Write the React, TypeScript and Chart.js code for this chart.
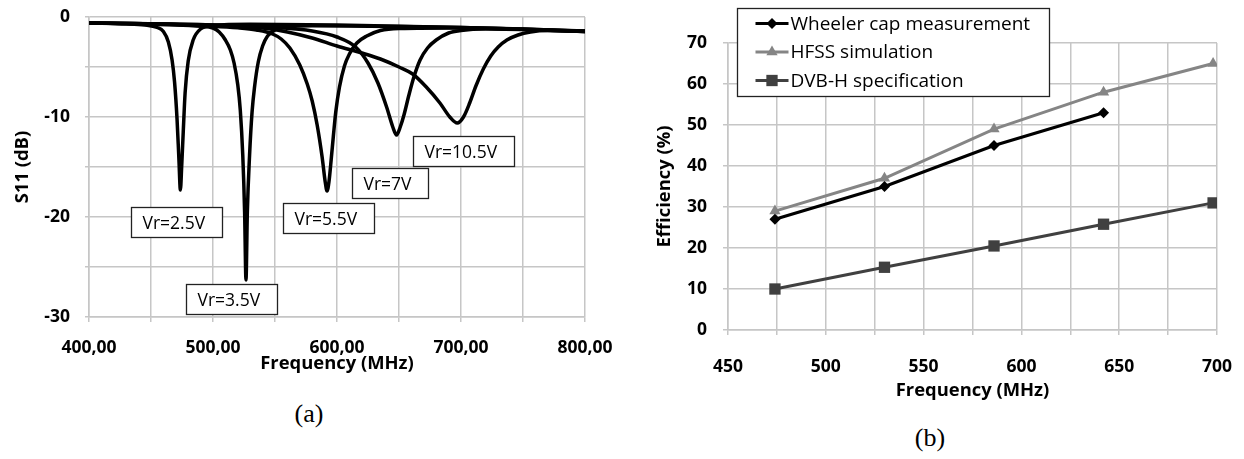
import React, { useEffect, useRef } from 'react';
import { Chart, registerables } from 'chart.js';

Chart.register(...registerables);

const FONT = "'Open Sans', 'DejaVu Sans', sans-serif";

// ---------- Panel (a): S11 vs frequency ----------
const f25 = [400, 430, 445, 455, 460, 464, 467, 469, 471, 472.5, 473.7, 474.8, 476, 477.5, 480, 484, 490, 500, 530, 600, 700, 800];
const s25 = [-0.6, -0.68, -0.8, -1.05, -1.45, -2.5, -4.3, -6.5, -10.2, -14.2, -17.3, -14.8, -11.5, -7.6, -4.4, -2.3, -1.2, -0.85, -0.72, -0.8, -1.05, -1.4];

const f35 = [400, 460, 490, 500, 505, 510, 514, 517, 520, 522, 524, 525.5, 526.6, 527.7, 529.5, 531.5, 533.5, 536.5, 540, 544, 550, 560, 580, 650, 700, 750, 800];
const s35 = [-0.6, -0.7, -0.92, -1.1, -1.5, -2.3, -3.3, -4.6, -6.8, -9.3, -13.8, -19.5, -26.3, -19.5, -13.8, -9.5, -7.0, -4.5, -2.9, -1.9, -1.3, -1.0, -0.88, -0.95, -1.05, -1.2, -1.42];

const f55 = [400, 450, 500, 520, 535, 548, 555, 562, 570, 576, 580, 584, 588, 590.5, 592, 593.5, 595.5, 597, 599, 602, 606, 610, 616, 624, 635, 650, 700, 800];
const s55 = [-0.6, -0.72, -0.92, -1.08, -1.3, -1.7, -2.2, -3.1, -4.8, -6.7, -8.4, -10.8, -14.0, -16.5, -17.4, -16.5, -14.0, -12.0, -9.5, -7.0, -4.9, -3.7, -2.6, -1.9, -1.35, -1.15, -1.1, -1.45];

const f7 = [400, 500, 550, 580, 600, 615, 625, 633, 640, 645, 648, 651, 654, 658, 662, 667, 673, 680, 690, 700, 720, 800];
const s7 = [-0.6, -0.8, -1.05, -1.4, -2.0, -3.0, -4.6, -6.6, -9.0, -11.0, -11.8, -11.0, -9.8, -7.8, -6.0, -4.3, -3.1, -2.3, -1.6, -1.35, -1.2, -1.45];

const f105 = [400, 500, 540, 560, 580, 600, 620, 635, 650, 661, 672, 683, 691, 697, 702, 707, 712, 718, 724, 730, 737, 746, 756, 770, 800];
const s105 = [-0.6, -0.8, -1.1, -1.5, -2.1, -2.9, -3.6, -4.2, -5.0, -5.7, -7.0, -8.6, -10.0, -10.6, -10.0, -8.6, -6.9, -5.2, -3.9, -3.0, -2.3, -1.8, -1.5, -1.35, -1.45];

const vrLabels = ['Vr=2.5V', 'Vr=3.5V', 'Vr=5.5V', 'Vr=7V', 'Vr=10.5V'];
// top-left anchor of each label box, in data units (MHz, dB)
const vrLabelF = [434, 478, 556.5, 612, 661.3];
const vrLabelDb = [-19.0, -26.7, -18.6, -15.1, -11.9];

// ---------- Panel (b): efficiency ----------
const freqB = [474, 530, 586, 642, 698];
const wheeler = [27, 35, 45, 53];
const hfss = [29, 37, 49, 58, 65];
const dvbh = [10, 15.3, 20.5, 25.8, 31];
const legendB = ['Wheeler cap measurement', 'HFSS simulation', 'DVB-H specification'];

const GRID = '#c6c6c6';

const toXY = (xs: number[], ys: number[]) => ys.map((y, i) => ({ x: xs[i], y }));

const vrLabelPlugin = {
  id: 'vrLabels',
  afterDatasetsDraw(chart: any) {
    const { ctx, scales } = chart;
    const x = scales.x;
    const y = scales.y;
    ctx.save();
    ctx.font = `17.5px ${FONT}`;
    vrLabels.forEach((t, i) => {
      const left = Math.round(x.getPixelForValue(vrLabelF[i])) + 0.5;
      const top = Math.round(y.getPixelForValue(vrLabelDb[i])) + 0.5;
      const w = Math.round(ctx.measureText(t).width + 28);
      const h = 30;
      ctx.fillStyle = '#ffffff';
      ctx.fillRect(left, top, w, h);
      ctx.strokeStyle = '#222';
      ctx.lineWidth = 1.3;
      ctx.strokeRect(left, top, w, h);
      ctx.fillStyle = '#000';
      ctx.textBaseline = 'middle';
      ctx.textAlign = 'left';
      ctx.fillText(t, left + 11, top + h / 2 + 2);
    });
    ctx.restore();
  },
};

function drawMarker(ctx: CanvasRenderingContext2D, style: string, cx: number, cy: number, r: number) {
  ctx.beginPath();
  if (style === 'rectRot') {
    ctx.moveTo(cx - r, cy);
    ctx.lineTo(cx, cy - r);
    ctx.lineTo(cx + r, cy);
    ctx.lineTo(cx, cy + r);
  } else if (style === 'triangle') {
    ctx.moveTo(cx, cy - r);
    ctx.lineTo(cx + r * Math.sin(Math.PI / 3), cy + r / 2);
    ctx.lineTo(cx - r * Math.sin(Math.PI / 3), cy + r / 2);
  } else {
    const s = r * Math.SQRT1_2;
    ctx.rect(cx - s, cy - s, 2 * s, 2 * s);
  }
  ctx.closePath();
  ctx.fill();
}

const legendPluginB = {
  id: 'legendB',
  afterDraw(chart: any) {
    const { ctx, chartArea } = chart;
    ctx.save();
    ctx.font = `19px ${FONT}`;
    const left = Math.round(chartArea.left + 9) + 0.5;
    const top = 8.5;
    const textX = left + 53;
    const maxW = Math.max(...legendB.map((t) => ctx.measureText(t).width));
    const w = Math.round(53 + maxW + 19);
    const h = 88;
    ctx.fillStyle = '#fff';
    ctx.fillRect(left, top, w, h);
    ctx.strokeStyle = '#222';
    ctx.lineWidth = 1.3;
    ctx.strokeRect(left, top, w, h);
    chart.data.datasets.forEach((ds: any, i: number) => {
      const cy = top + 15 + i * 28.5;
      ctx.strokeStyle = ds.borderColor;
      ctx.lineWidth = 3;
      ctx.beginPath();
      ctx.moveTo(left + 18, cy);
      ctx.lineTo(left + 51, cy);
      ctx.stroke();
      ctx.fillStyle = ds.pointBackgroundColor;
      drawMarker(ctx, ds.pointStyle, left + 34.5, cy, ds.pointRadius);
      ctx.fillStyle = '#000';
      ctx.textAlign = 'left';
      ctx.textBaseline = 'middle';
      ctx.fillText(legendB[i], textX, cy + 1);
    });
    ctx.restore();
  },
};

const fitX = (h: number) => (s: any) => {
  s.height = h;
  s.paddingLeft = 0;
  s.paddingRight = 0;
};
const fitY = (w: number) => (s: any) => {
  s.width = w;
  s.paddingTop = 0;
  s.paddingBottom = 0;
};

export default function App() {
  const refA = useRef<HTMLCanvasElement>(null);
  const refB = useRef<HTMLCanvasElement>(null);

  useEffect(() => {
    const tickFont = { family: FONT, size: 17.5, weight: 'bold' as const };
    const titleFont = { family: FONT, size: 18.4, weight: 'bold' as const };

    const lineA = (xs: number[], ys: number[], label: string) => ({
      label,
      data: toXY(xs, ys),
      borderColor: '#000',
      borderWidth: 3.5,
      pointRadius: 0,
      fill: false,
      cubicInterpolationMode: 'monotone' as const,
    });

    const chartA = new Chart(refA.current!, {
      type: 'line',
      data: {
        datasets: [
          lineA(f105, s105, 'Vr=10.5V'),
          lineA(f7, s7, 'Vr=7V'),
          lineA(f55, s55, 'Vr=5.5V'),
          lineA(f35, s35, 'Vr=3.5V'),
          lineA(f25, s25, 'Vr=2.5V'),
        ],
      },
      options: {
        responsive: false,
        animation: false,
        layout: { padding: { top: 17, right: 35, left: 0, bottom: 0 } },
        plugins: { legend: { display: false }, tooltip: { enabled: false } },
        scales: {
          x: {
            type: 'linear',
            min: 400,
            max: 800,
            afterFit: fitX(73),
            ticks: {
              stepSize: 50,
              autoSkip: false,
              maxRotation: 0,
              padding: 16,
              color: '#000',
              font: tickFont,
              callback: (v: any) => (Number(v) % 100 === 0 ? Number(v).toFixed(2).replace('.', ',') : ''),
            },
            grid: { color: GRID, lineWidth: 1.5, tickLength: 5, tickColor: GRID },
            border: { color: GRID, width: 1.5 },
            title: { display: true, text: 'Frequency (MHz)', color: '#000', font: titleFont, padding: { top: 0, bottom: 15 } },
          },
          y: {
            type: 'linear',
            min: -30,
            max: 0,
            afterFit: fitY(89),
            ticks: {
              stepSize: 5,
              padding: 15,
              color: '#000',
              font: tickFont,
              callback: (v: any) => (Number(v) % 10 === 0 ? String(v) : ''),
            },
            grid: { color: GRID, lineWidth: 1.5, tickLength: 4, tickColor: GRID },
            border: { color: GRID, width: 1.5 },
            title: { display: true, text: 'S11 (dB)', color: '#000', font: titleFont, padding: { top: 12, bottom: 0 } },
          },
        },
      },
      plugins: [vrLabelPlugin],
    } as any);

    const chartB = new Chart(refB.current!, {
      type: 'line',
      data: {
        datasets: [
          {
            label: legendB[0],
            data: toXY(freqB, wheeler),
            borderColor: '#000000',
            backgroundColor: '#000000',
            pointBackgroundColor: '#000000',
            pointBorderColor: '#000000',
            borderWidth: 3,
            pointStyle: 'rectRot',
            pointRadius: 5.5,
            pointBorderWidth: 0,
          },
          {
            label: legendB[1],
            data: toXY(freqB, hfss),
            borderColor: '#858585',
            backgroundColor: '#858585',
            pointBackgroundColor: '#858585',
            pointBorderColor: '#858585',
            borderWidth: 3,
            pointStyle: 'triangle',
            pointRadius: 6.5,
            pointBorderWidth: 0,
          },
          {
            label: legendB[2],
            data: toXY(freqB, dvbh),
            borderColor: '#404040',
            backgroundColor: '#404040',
            pointBackgroundColor: '#404040',
            pointBorderColor: '#404040',
            borderWidth: 3,
            pointStyle: 'rect',
            pointRadius: 8,
            pointBorderWidth: 0,
          },
        ],
      },
      options: {
        responsive: false,
        animation: false,
        layout: { padding: { top: 43, right: 27, left: 0, bottom: 0 } },
        plugins: { legend: { display: false }, tooltip: { enabled: false } },
        scales: {
          x: {
            type: 'linear',
            min: 450,
            max: 700,
            afterFit: fitX(80),
            ticks: {
              stepSize: 25,
              autoSkip: false,
              maxRotation: 0,
              padding: 22,
              color: '#000',
              font: tickFont,
              callback: (v: any) => (Number(v) % 50 === 0 ? String(v) : ''),
            },
            grid: { color: GRID, lineWidth: 1.5, tickLength: 5, tickColor: GRID },
            border: { color: GRID, width: 1.5 },
            title: { display: true, text: 'Frequency (MHz)', color: '#000', font: titleFont, padding: { top: 0, bottom: 8 } },
          },
          y: {
            type: 'linear',
            min: 0,
            max: 70,
            afterFit: fitY(108),
            ticks: {
              stepSize: 10,
              padding: 16,
              color: '#000',
              font: tickFont,
            },
            grid: { color: GRID, lineWidth: 1.5, tickLength: 5, tickColor: GRID },
            border: { color: GRID, width: 1.5 },
            title: { display: true, text: 'Efficiency (%)', color: '#000', font: titleFont, padding: { top: 34, bottom: 0 } },
          },
        },
      },
      plugins: [legendPluginB],
    } as any);

    return () => {
      chartA.destroy();
      chartB.destroy();
    };
  }, []);

  const caption: React.CSSProperties = {
    position: 'absolute',
    width: 80,
    textAlign: 'center',
    fontFamily: "'Liberation Serif', 'DejaVu Serif', serif",
    fontSize: 26,
    lineHeight: '30px',
    color: '#000',
  };

  return (
    <div style={{ position: 'absolute', left: 0, top: 0, width: 1244, height: 459, background: '#fff', overflow: 'hidden' }}>
      <canvas ref={refA} width={620} height={390} style={{ position: 'absolute', left: 0, top: 0 }} />
      <canvas ref={refB} width={624} height={410} style={{ position: 'absolute', left: 620, top: 0 }} />
      <div style={{ ...caption, left: 309 - 40, top: 414 - 15 }}>(a)</div>
      <div style={{ ...caption, left: 930 - 40, top: 438 - 15 }}>(b)</div>
    </div>
  );
}
